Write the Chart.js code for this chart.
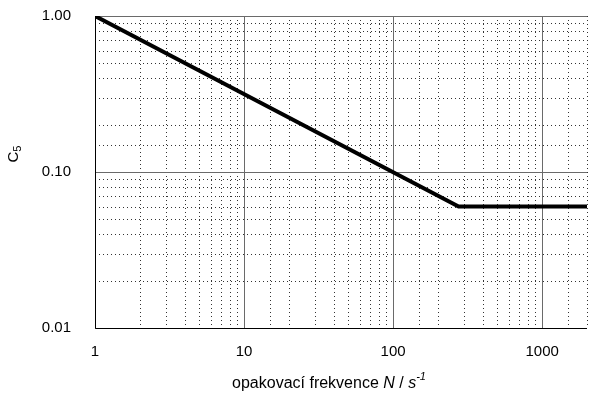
<!DOCTYPE html>
<html>
<head>
<meta charset="utf-8">
<script src="https://cdn.jsdelivr.net/npm/chart.js@4.4.1/dist/chart.umd.min.js"></script>
<style>
  html, body { margin: 0; padding: 0; background: #fff; }
  #wrap { width: 596px; height: 396px; }
</style>
</head>
<body>
<div id="wrap"><canvas id="c"></canvas></div>
<script>
// data: C5 vs repetition frequency N
const freqN = [1, 275, 2000];
const c5 = [1.0, 0.06, 0.06];

const xMin = 1, xMax = 2000;
const yMin = 0.01, yMax = 1;
const xTickLabels = { 1: "1", 10: "10", 100: "100", 1000: "1000" };
const yTickLabels = { 1: "1.00", 0.1: "0.10", 0.01: "0.01" };

const FONT = "'Liberation Sans', Arial, sans-serif";

function labelFor(map, v) {
  for (const k of Object.keys(map)) {
    if (Math.abs(Number(k) - v) < 1e-9 * Math.max(1, v)) return map[k];
  }
  return "";
}

// grid: dotted minor lines, solid major lines, drawn from the scales' own ticks
const logGrid = {
  id: "logGrid",
  beforeDatasetsDraw(chart) {
    const { ctx, chartArea: a, scales: { x, y } } = chart;
    ctx.save();
    ctx.lineWidth = 1;

    // minor first
    ctx.strokeStyle = "#333";
    ctx.setLineDash([1, 3]);
    for (const t of x.ticks) {
      if (t.major) continue;
      const px = Math.round(x.getPixelForValue(t.value)) + 0.5;
      ctx.beginPath(); ctx.moveTo(px, a.top); ctx.lineTo(px, a.bottom); ctx.stroke();
    }
    for (const t of y.ticks) {
      if (t.major) continue;
      const py = Math.round(y.getPixelForValue(t.value)) + 0.5;
      ctx.beginPath(); ctx.moveTo(a.left, py); ctx.lineTo(a.right, py); ctx.stroke();
    }

    // major
    ctx.setLineDash([]);
    ctx.strokeStyle = "#6a6a6a";
    for (const t of x.ticks) {
      if (!t.major) continue;
      const px = Math.round(x.getPixelForValue(t.value)) + 0.5;
      ctx.beginPath(); ctx.moveTo(px, a.top); ctx.lineTo(px, a.bottom); ctx.stroke();
    }
    for (const t of y.ticks) {
      if (!t.major) continue;
      const py = Math.round(y.getPixelForValue(t.value)) + 0.5;
      ctx.beginPath(); ctx.moveTo(a.left, py); ctx.lineTo(a.right, py); ctx.stroke();
    }

    // axes
    ctx.strokeStyle = "#000";
    ctx.beginPath();
    ctx.moveTo(Math.round(a.left) + 0.5, a.top);
    ctx.lineTo(Math.round(a.left) + 0.5, Math.round(a.bottom) + 0.5);
    ctx.lineTo(a.right, Math.round(a.bottom) + 0.5);
    ctx.stroke();
    ctx.restore();
  },
  afterDraw(chart) {
    const { ctx } = chart;
    ctx.save();
    ctx.fillStyle = "#000";
    ctx.textBaseline = "alphabetic";

    // x title: opakovací frekvence N / s^-1
    const parts = [
      { t: "opakovací frekvence ", f: "16px " + FONT, dy: 0 },
      { t: "N", f: "italic 16px " + FONT, dy: 0 },
      { t: " / ", f: "16px " + FONT, dy: 0 },
      { t: "s", f: "italic 16px " + FONT, dy: 0 },
      { t: "-1", f: "italic 11px " + FONT, dy: -8 }
    ];
    let w = 0;
    for (const p of parts) { ctx.font = p.f; w += ctx.measureText(p.t).width; }
    let xx = 329 - w / 2;
    const base = 388;
    ctx.textAlign = "left";
    for (const p of parts) {
      ctx.font = p.f;
      ctx.fillText(p.t, xx, base + p.dy);
      xx += ctx.measureText(p.t).width;
    }

    // y title: C5 rotated
    ctx.translate(18, 154);
    ctx.rotate(-Math.PI / 2);
    ctx.font = "15px " + FONT;
    const wc = ctx.measureText("C").width;
    ctx.font = "11px " + FONT;
    const w5 = ctx.measureText("5").width;
    const start = -(wc + w5) / 2;
    ctx.font = "15px " + FONT;
    ctx.fillText("C", start, 0);
    ctx.font = "11px " + FONT;
    ctx.fillText("5", start + wc, 3);
    ctx.restore();
  }
};

new Chart(document.getElementById("c"), {
  type: "line",
  data: {
    datasets: [{
      data: freqN.map((n, i) => ({ x: n, y: c5[i] })),
      borderColor: "#000",
      borderWidth: 4,
      pointRadius: 0,
      tension: 0,
      fill: false
    }]
  },
  options: {
    responsive: true,
    maintainAspectRatio: false,
    animation: false,
    layout: { padding: 0 },
    plugins: { legend: { display: false }, tooltip: { enabled: false } },
    scales: {
      x: {
        type: "logarithmic",
        min: xMin, max: xMax,
        grid: { display: false, drawTicks: false },
        border: { display: false },
        ticks: {
          autoSkip: false,
          maxRotation: 0,
          padding: 15,
          color: "#000",
          font: { family: FONT, size: 15 },
          callback: (v) => labelFor(xTickLabels, v)
        },
        afterFit: (s) => { s.height = 68; s.paddingLeft = 0; s.paddingRight = 9; }
      },
      y: {
        type: "logarithmic",
        min: yMin, max: yMax,
        grid: { display: false, drawTicks: false },
        border: { display: false },
        ticks: {
          autoSkip: false,
          padding: 24,
          color: "#000",
          font: { family: FONT, size: 15 },
          callback: (v) => labelFor(yTickLabels, v)
        },
        afterFit: (s) => { s.width = 95; s.paddingTop = 16; s.paddingBottom = 0; }
      }
    }
  },
  plugins: [logGrid]
});
</script>
</body>
</html>
